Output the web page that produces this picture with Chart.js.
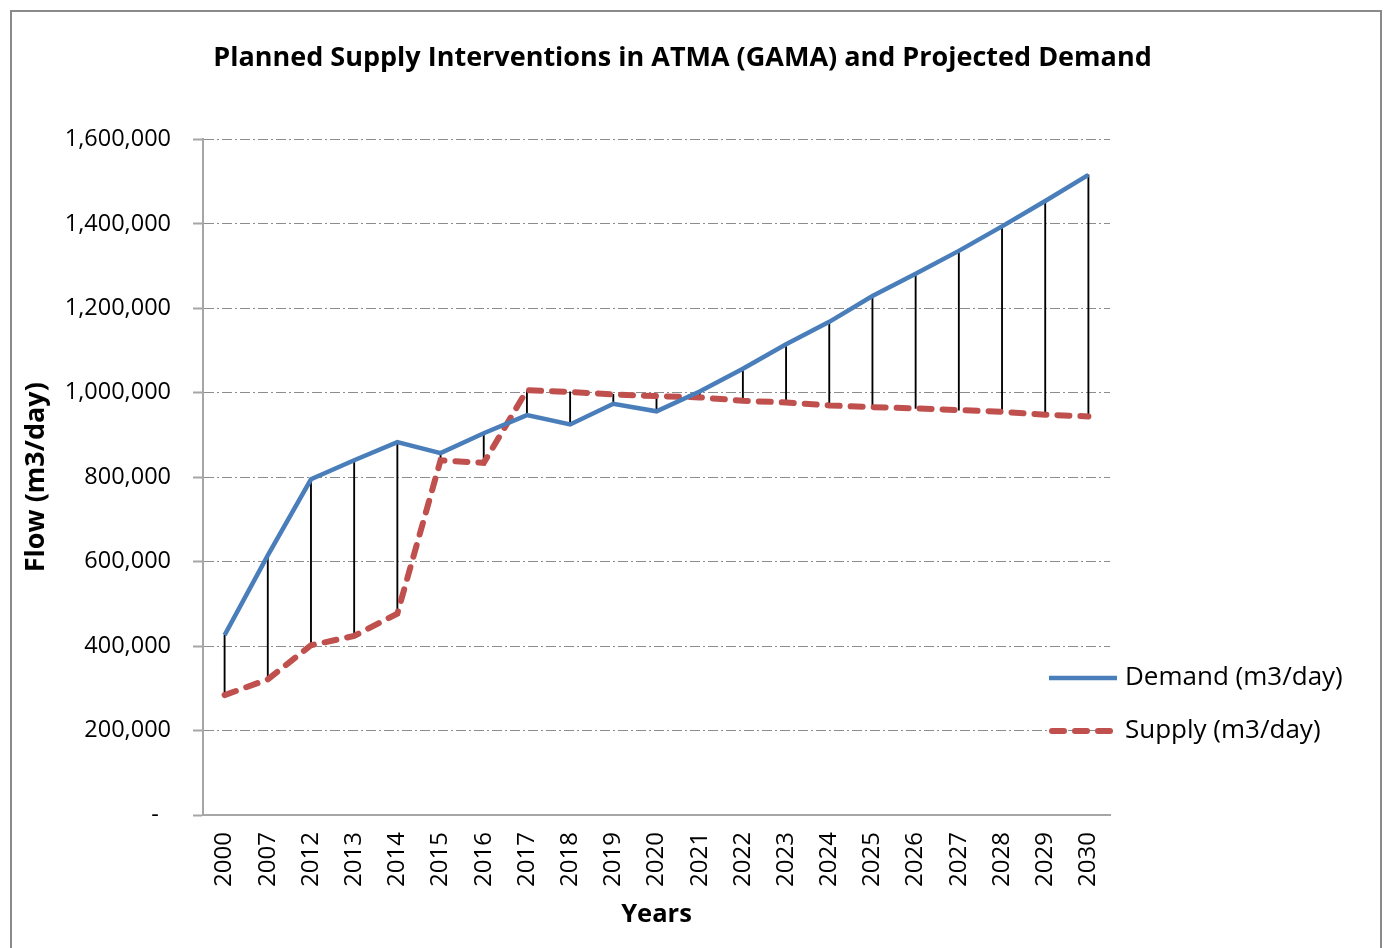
<!DOCTYPE html>
<html>
<head>
<meta charset="utf-8">
<script src="https://cdn.jsdelivr.net/npm/chart.js@4"></script>
<style>
  html, body { margin: 0; padding: 0; background: #fff; }
</style>
</head>
<body>
<canvas id="supply-chart" width="1385" height="948"></canvas>
<script>
let years = ["2000", "2007", "2012", "2013", "2014", "2015", "2016", "2017", "2018", "2019", "2020",
  "2021", "2022", "2023", "2024", "2025", "2026", "2027", "2028", "2029", "2030"];
let demand = [426000, 615000, 795000, 840000, 883000, 857000, 904000, 947000, 925000, 974000, 956000,
  1003000, 1057000, 1115000, 1168000, 1229000, 1282000, 1336000, 1394000, 1454000, 1516000];
let supply = [284000, 321000, 402000, 424000, 477000, 840000, 834000, 1006000, 1002000, 996000, 992000,
  989000, 981000, 977000, 970000, 966000, 963000, 959000, 955000, 948000, 944000];
let yMin = 0;
let yMax = 1600000;
let yStep = 200000;

let fontFamily = "'Open Sans', sans-serif";
Chart.defaults.font.family = fontFamily;
Chart.defaults.color = "#000";

// black drop lines between the two series
let dropLines = supply.map((s, i) => [s, demand[i]]);

// frame round the whole chart
const framePlugin = {
  id: "frame",
  beforeDraw(chart) {
    let ctx = chart.ctx;
    ctx.save();
    ctx.fillStyle = "#fff";
    ctx.fillRect(0, 0, chart.width, chart.height);
    ctx.strokeStyle = "#8a8a8a";
    ctx.lineWidth = 2;
    ctx.strokeRect(11, 11, 1370, 960);
    ctx.restore();
  }
};

// legend sitting at the right, over the lower part of the plot
const sideLegend = {
  id: "sideLegend",
  afterDraw(chart) {
    let ctx = chart.ctx;
    let items = chart.data.datasets.filter(d => d.type === "line");
    items.forEach((d, i) => {
      let y = 678 + i * 53;
      ctx.save();
      ctx.strokeStyle = d.borderColor;
      ctx.lineWidth = d.borderWidth;
      ctx.lineCap = d.borderCapStyle || "butt";
      ctx.setLineDash(d.borderDash || []);
      ctx.beginPath();
      ctx.moveTo(d.borderDash ? 1052 : 1049, y);
      ctx.lineTo(d.borderDash ? 1114 : 1117, y);
      ctx.stroke();
      ctx.setLineDash([]);
      ctx.fillStyle = "#000";
      ctx.font = "26px " + fontFamily;
      ctx.textBaseline = "middle";
      ctx.fillText(d.label, 1125, y);
      ctx.restore();
    });
  }
};

let ctx = document.getElementById("supply-chart").getContext("2d");
let chart = new Chart(ctx, {
  data: {
    labels: years,
    datasets: [
      {
        type: "line",
        label: "Demand (m3/day)",
        data: demand,
        borderColor: "#4a7ebb",
        borderWidth: 4.5,
        pointRadius: 0,
        tension: 0,
        fill: false,
        order: 1
      },
      {
        type: "line",
        label: "Supply (m3/day)",
        data: supply,
        borderColor: "#c0504d",
        borderWidth: 6,
        borderDash: [12, 11],
        borderCapStyle: "round",
        pointRadius: 0,
        tension: 0,
        fill: false,
        order: 2
      },
      {
        type: "bar",
        label: "drop",
        data: dropLines,
        backgroundColor: "#000",
        borderWidth: 0,
        barThickness: 1.2,
        order: 3
      }
    ]
  },
  options: {
    responsive: false,
    animation: false,
    events: [],
    layout: { padding: { left: 0, right: 20, top: 0, bottom: 0 } },
    plugins: {
      legend: { display: false },
      tooltip: { enabled: false },
      title: {
        display: true,
        text: "Planned Supply Interventions in ATMA (GAMA) and Projected Demand",
        font: { size: 27, weight: "bold" },
        color: "#000",
        padding: { top: 42, bottom: 65 }
      }
    },
    scales: {
      x: {
        offset: true,
        grid: { display: false, drawTicks: false },
        border: { display: true, color: "#a6a6a6", width: 2 },
        ticks: {
          minRotation: 90,
          maxRotation: 90,
          autoSkip: false,
          padding: 17,
          font: { size: 24 }
        },
        title: {
          display: true,
          text: "Years",
          font: { size: 25.5, weight: "bold" },
          padding: { top: 0, bottom: 18 }
        },
        afterFit(scale) { scale.height = 133; }
      },
      y: {
        min: yMin,
        max: yMax,
        grid: {
          color: "#8c8c8c",
          lineWidth: 1,
          tickLength: 10,
          tickColor: "#a6a6a6",
          tickWidth: 2
        },
        border: { display: true, color: "#a6a6a6", width: 2, dash: [10, 3, 2, 3] },
        ticks: {
          stepSize: yStep,
          padding: 22,
          font: { size: 23.5 },
          callback: v => v === 0 ? "-  " : v.toLocaleString("en-US")
        },
        title: {
          display: true,
          text: "Flow (m3/day)",
          font: { size: 27, weight: "bold" },
          padding: { top: 20, bottom: 0 }
        },
        afterFit(scale) { scale.width = 203; }
      },
      yR: {
        position: "right",
        display: true,
        grid: { display: false, drawTicks: false },
        border: { display: false },
        ticks: { display: false },
        afterFit(scale) { scale.width = 255; }
      }
    }
  },
  plugins: [framePlugin, sideLegend]
});
</script>
</body>
</html>
